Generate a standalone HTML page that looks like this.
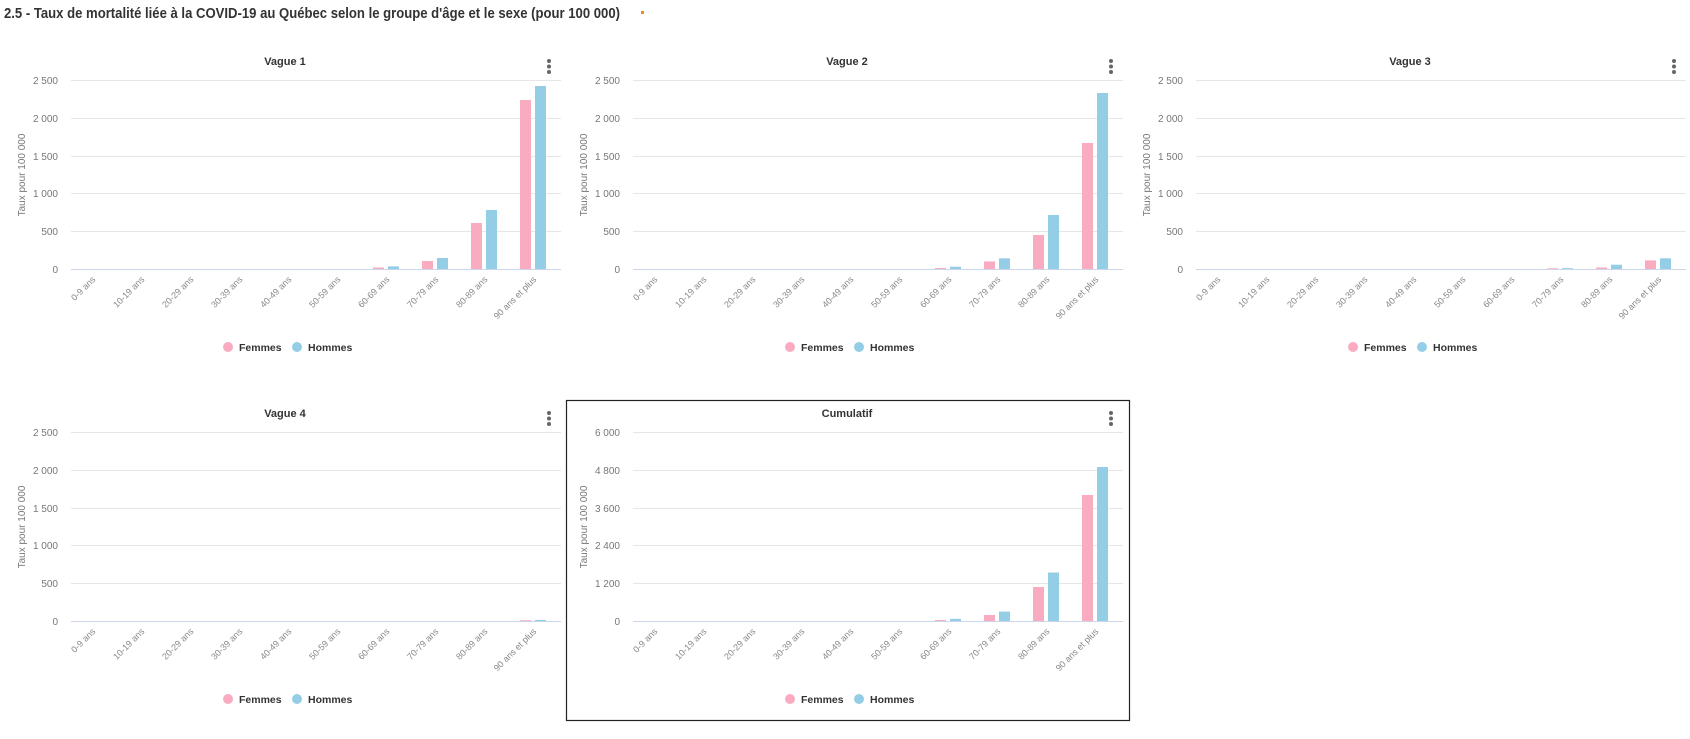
<!DOCTYPE html>
<html><head><meta charset="utf-8"><style>
html,body{margin:0;padding:0;background:#fff;width:1690px;height:739px;overflow:hidden}
svg{display:block;font-family:"Liberation Sans",sans-serif}
.t{font-size:11px;fill:#333;font-weight:bold;text-anchor:middle}
.yl{font-size:10px;fill:#777;text-anchor:end}
.at{font-size:10px;fill:#777;text-anchor:middle}
.xl{font-size:9px;fill:#888;text-anchor:end}
.lg{font-size:10.5px;fill:#333;font-weight:bold}
.g{stroke:#e6e6e6;stroke-width:1}
.b{stroke:#ccd6eb;stroke-width:1}
.f{fill:#f9acc0}.h{fill:#93cde6}
</style></head><body>
<svg width="1690" height="739" viewBox="0 0 1690 739">
<text x="4" y="18" font-size="14.5" font-weight="bold" fill="#333" textLength="616" lengthAdjust="spacingAndGlyphs">2.5 - Taux de mortalité liée à la COVID-19 au Québec selon le groupe d'âge et le sexe (pour 100 000)</text>
<rect x="641" y="11" width="3" height="3" fill="#f08a24"/>

<defs>
<g id="frame">
<line class="g" x1="71" x2="561" y1="80.5" y2="80.5"/>
<line class="g" x1="71" x2="561" y1="118.5" y2="118.5"/>
<line class="g" x1="71" x2="561" y1="156.5" y2="156.5"/>
<line class="g" x1="71" x2="561" y1="193.5" y2="193.5"/>
<line class="g" x1="71" x2="561" y1="231.5" y2="231.5"/>
<line class="b" x1="71" x2="561" y1="269.5" y2="269.5"/>
<circle cx="549" cy="61" r="2" fill="#666"/><circle cx="549" cy="66.5" r="2" fill="#666"/><circle cx="549" cy="72" r="2" fill="#666"/>
<text class="at" transform="translate(25,175) rotate(-90)">Taux pour 100 000</text>
<text class="xl" transform="translate(96,280) rotate(-45)">0-9 ans</text>
<text class="xl" transform="translate(145,280) rotate(-45)">10-19 ans</text>
<text class="xl" transform="translate(194,280) rotate(-45)">20-29 ans</text>
<text class="xl" transform="translate(243,280) rotate(-45)">30-39 ans</text>
<text class="xl" transform="translate(292,280) rotate(-45)">40-49 ans</text>
<text class="xl" transform="translate(341,280) rotate(-45)">50-59 ans</text>
<text class="xl" transform="translate(390,280) rotate(-45)">60-69 ans</text>
<text class="xl" transform="translate(439,280) rotate(-45)">70-79 ans</text>
<text class="xl" transform="translate(488,280) rotate(-45)">80-89 ans</text>
<text class="xl" transform="translate(537,280) rotate(-45)">90 ans et plus</text>
<circle cx="228" cy="347" r="5" class="f"/><text class="lg" x="239" y="351">Femmes</text>
<circle cx="297" cy="347" r="5" class="h"/><text class="lg" x="308" y="351">Hommes</text>
</g>
<g id="y25">
<text class="yl" x="58" y="84">2 500</text>
<text class="yl" x="58" y="122">2 000</text>
<text class="yl" x="58" y="160">1 500</text>
<text class="yl" x="58" y="197">1 000</text>
<text class="yl" x="58" y="235">500</text>
<text class="yl" x="58" y="273">0</text>
</g>
</defs>

<!-- Vague 1 -->
<g>
<use href="#frame"/><use href="#y25"/>
<text class="t" x="285" y="65">Vague 1</text>
<rect class="f" x="373" y="267.5" width="11" height="1.5"/><rect class="h" x="388" y="266.4" width="11" height="2.6"/>
<rect class="f" x="422" y="261" width="11" height="8"/><rect class="h" x="437" y="258" width="11" height="11"/>
<rect class="f" x="471" y="223" width="11" height="46"/><rect class="h" x="486" y="210" width="11" height="59"/>
<rect class="f" x="520" y="100" width="11" height="169"/><rect class="h" x="535" y="86" width="11" height="183"/>
</g>

<!-- Vague 2 -->
<g transform="translate(562,0)">
<use href="#frame"/><use href="#y25"/>
<text class="t" x="285" y="65">Vague 2</text>
<rect class="f" x="373" y="268" width="11" height="1"/><rect class="h" x="388" y="266.7" width="11" height="2.3"/>
<rect class="f" x="422" y="261.4" width="11" height="7.6"/><rect class="h" x="437" y="258.3" width="11" height="10.7"/>
<rect class="f" x="471" y="235" width="11" height="34"/><rect class="h" x="486" y="215" width="11" height="54"/>
<rect class="f" x="520" y="143" width="11" height="126"/><rect class="h" x="535" y="93" width="11" height="176"/>
</g>

<!-- Vague 3 -->
<g transform="translate(1125,0)">
<use href="#frame"/><use href="#y25"/>
<text class="t" x="285" y="65">Vague 3</text>
<rect class="f" x="422" y="268.3" width="11" height="0.7"/><rect class="h" x="437" y="268.2" width="11" height="0.8"/>
<rect class="f" x="471" y="267.5" width="11" height="1.5"/><rect class="h" x="486" y="264.7" width="11" height="4.3"/>
<rect class="f" x="520" y="260.4" width="11" height="8.6"/><rect class="h" x="535" y="258.3" width="11" height="10.7"/>
</g>

<!-- Vague 4 -->
<g transform="translate(0,352)">
<use href="#frame"/><use href="#y25"/>
<text class="t" x="285" y="65">Vague 4</text>
<rect class="f" x="520" y="268.2" width="11" height="0.8"/><rect class="h" x="535" y="267.9" width="11" height="1.1"/>
</g>

<!-- Cumulatif -->
<rect x="566.5" y="400.5" width="563" height="320" fill="none" stroke="#222" stroke-width="1.2"/>
<g transform="translate(562,352)">
<use href="#frame"/>
<text class="yl" x="58" y="84">6 000</text>
<text class="yl" x="58" y="122">4 800</text>
<text class="yl" x="58" y="160">3 600</text>
<text class="yl" x="58" y="197">2 400</text>
<text class="yl" x="58" y="235">1 200</text>
<text class="yl" x="58" y="273">0</text>
<text class="t" x="285" y="65">Cumulatif</text>
<rect class="f" x="373" y="268" width="11" height="1"/><rect class="h" x="388" y="266.8" width="11" height="2.2"/>
<rect class="f" x="422" y="263" width="11" height="6"/><rect class="h" x="437" y="259.6" width="11" height="9.4"/>
<rect class="f" x="471" y="235" width="11" height="34"/><rect class="h" x="486" y="220.5" width="11" height="48.5"/>
<rect class="f" x="520" y="143" width="11" height="126"/><rect class="h" x="535" y="115" width="11" height="154"/>
</g>
</svg>
</body></html>
